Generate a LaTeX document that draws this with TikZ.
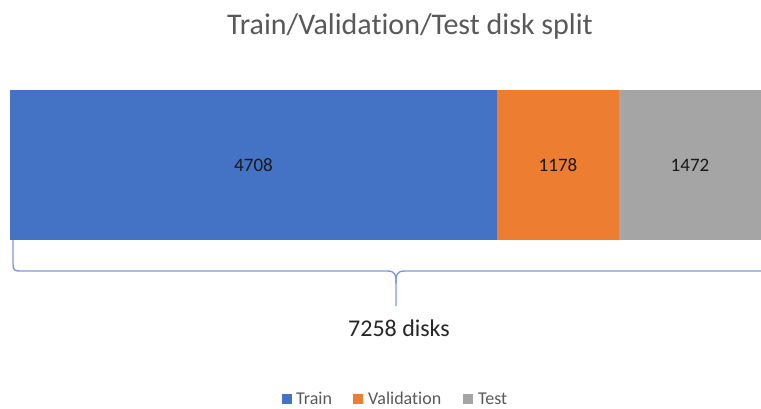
\documentclass[tikz,border=0pt]{standalone}
\usepackage{fontspec}
\setmainfont[RawFeature=-liga,RawFeature=-calt,RawFeature=-clig]{Carlito}
\definecolor{trainblue}{HTML}{4472C4}
\definecolor{valorange}{HTML}{ED7D31}
\definecolor{testgray}{HTML}{A5A5A5}
\definecolor{labelgray}{HTML}{595959}
\definecolor{braceblue}{HTML}{7C9DD8}
\begin{document}
\begin{tikzpicture}[x=1pt,y=-1pt,
  segment/.style={draw=none,inner sep=0pt,outer sep=0pt,anchor=north west,minimum height=150pt},
  count/.style={font=\fontsize{19}{19}\selectfont,text=black!90},
  legendbox/.style={inner sep=0pt,minimum width=10pt,minimum height=10pt},
  legendtext/.style={font=\fontsize{18}{18}\selectfont,text=labelgray,inner sep=0pt,anchor=base west}]
\useasboundingbox[fill=white] (0,0) rectangle (761,409);

% title
\node[font=\fontsize{30}{30}\selectfont,text=labelgray] (title) at (410,27) {Train/Validation/Test disk split};

% stacked bar
\node[segment,fill=trainblue,minimum width=487pt] (train) at (10,90) {};
\node[segment,fill=valorange,minimum width=122pt] (val) at (497,90) {};
\node[segment,fill=testgray,minimum width=142pt] (test) at (619,90) {};
\node[count] (ntrain) at (train.center) {4708};
\node[count] (nval) at (val.center) {1178};
\node[count] (ntest) at (test.center) {1472};

% brace under the bar
\coordinate (bl) at (13,240);
\coordinate (tip) at (396,306);
\coordinate (br) at (761,271);
\draw[braceblue,line width=1.4pt]
  (bl) -- (13,262) .. controls (13,271) and (14,271) .. (22,271) -- (387,271)
  .. controls (395,271) and (396,274) .. (396,284) -- (tip);
\draw[braceblue,line width=1.4pt]
  (396,284) .. controls (396,274) and (397,271) .. (405,271) -- (br);
\node[font=\fontsize{24}{24}\selectfont,text=black!85] (total) at (399,328) {7258 disks};

% legend
\node[legendbox,fill=trainblue] (ktrain) at (287,399) {};
\node[legendtext] (ltrain) at (296,404) {Train};
\node[legendbox,fill=valorange] (kval) at (358,399) {};
\node[legendtext] (lval) at (368,404) {Validation};
\node[legendbox,fill=testgray] (ktest) at (468,399) {};
\node[legendtext] (ltest) at (478,404) {Test};
\end{tikzpicture}
\end{document}
